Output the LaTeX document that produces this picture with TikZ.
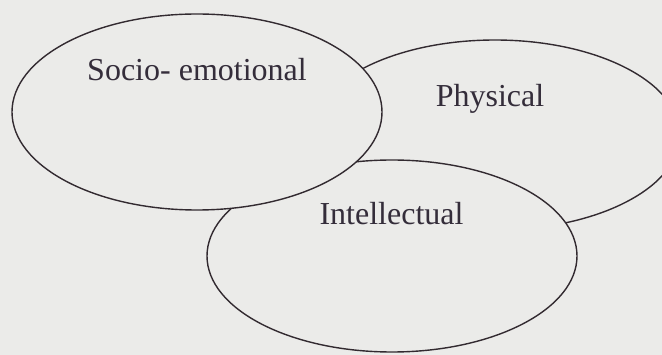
\documentclass[tikz,border=0pt]{standalone}
\usepackage{fontspec}
\setmainfont{Liberation Serif}
\definecolor{bgc}{RGB}{235,235,233}
\definecolor{linec}{RGB}{50,42,48}
\definecolor{textc}{RGB}{52,45,58}
\begin{document}
\begin{tikzpicture}[x=1pt,y=-1pt,
  blob/.style={draw=linec,line width=1.4pt,fill=bgc},
  lbl/.style={text=textc,anchor=base,inner sep=0pt,font=\fontsize{32}{38}\selectfont}]
\fill[bgc] (0,0) rectangle (662,355);
\useasboundingbox (0,0) rectangle (662,355);
\clip (0,0) rectangle (662,355);
\draw[blob] (495,135) ellipse [x radius=185, y radius=95];
\draw[blob] (392,256) ellipse [x radius=185, y radius=96];
\draw[blob] (197,112) ellipse [x radius=185, y radius=98];
\node[lbl] (socio) at (197,81) {Socio- emotional};
\node[lbl] (phys) at (490,107) {Physical};
\node[lbl] (intel) at (391.5,225) {Intellectual};
\end{tikzpicture}
\end{document}
